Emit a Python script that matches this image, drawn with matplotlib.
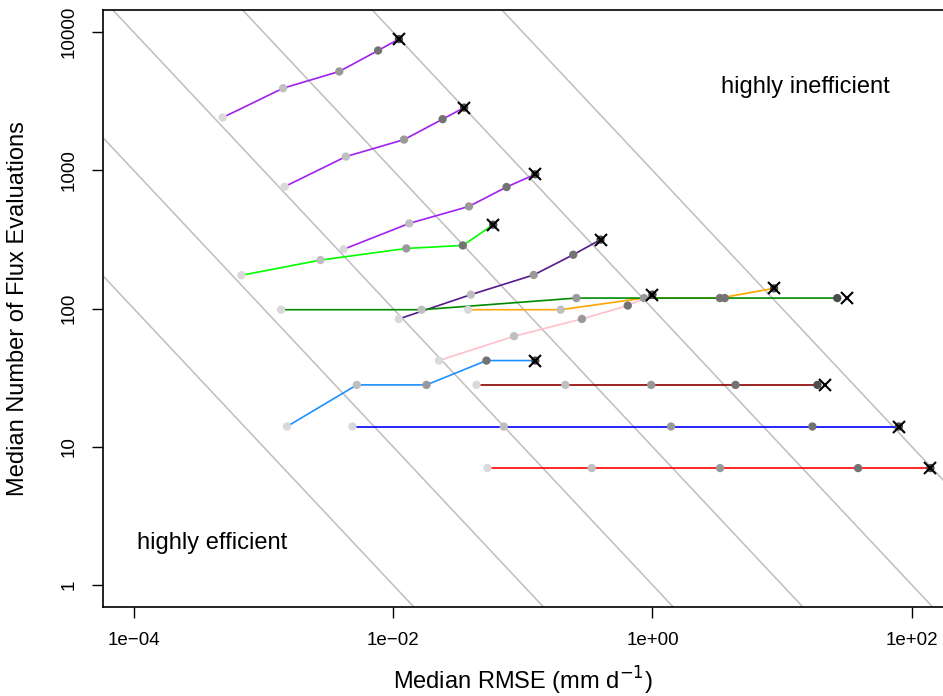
import numpy as np
import matplotlib.pyplot as plt

plt.rcParams['font.family'] = ['Liberation Sans', 'DejaVu Sans']

# median RMSE (x) and median number of flux evaluations (y) per method,
# five tolerance levels each, from loose (light dot) to tight (dark dot)
rmse_purple_a = [4.86e-4, 1.42e-3, 3.85e-3, 7.67e-3, 1.11e-2]
nfe_purple_a = [2410, 3927, 5190, 7360, 8910]
rmse_purple_b = [1.46e-3, 4.33e-3, 1.216e-2, 2.41e-2, 3.53e-2]
nfe_purple_b = [762, 1257, 1668, 2344, 2844]
rmse_purple_c = [4.15e-3, 1.334e-2, 3.85e-2, 7.50e-2, 0.125]
nfe_purple_c = [268, 413, 548, 757, 936]
rmse_green = [6.78e-4, 2.76e-3, 1.265e-2, 3.45e-2, 5.92e-2]
nfe_green = [174, 224, 272, 286, 404]
rmse_purple4 = [1.107e-2, 3.98e-2, 0.1216, 0.245, 0.398]
nfe_purple4 = [84, 126, 175, 245, 315]
rmse_green4 = [1.37e-3, 1.66e-2, 0.259, 3.61, 26.6]
nfe_green4 = [98, 98, 119, 119, 119]
rmse_orange = [0.0379, 0.196, 0.861, 3.31, 8.67]
nfe_orange = [98, 98, 119, 119, 140]
rmse_pink = [0.0226, 0.0857, 0.286, 0.645, 1.0]
nfe_pink = [42, 63, 84, 105, 126]
rmse_dodger = [1.52e-3, 5.26e-3, 0.0181, 0.0525, 0.125]
nfe_dodger = [14, 28, 28, 42, 42]
rmse_darkred = [0.044, 0.213, 0.977, 4.37, 18.7]
nfe_darkred = [28, 28, 28, 28, 28]
rmse_blue = [4.86e-3, 0.0714, 1.39, 17.1, 79.4]
nfe_blue = [14, 14, 14, 14, 14]
rmse_red = [0.0534, 0.340, 3.32, 38.5, 139]
nfe_red = [7, 7, 7, 7, 7]

# end markers (x) of each method
end_rmse = [1.11e-2, 3.53e-2, 0.125, 5.92e-2, 0.398, 31.8, 8.67, 1.0, 0.125, 21.4, 79.4, 139]
end_nfe = [8910, 2844, 936, 404, 315, 119, 140, 126, 42, 28, 14, 7]

series = [
    (rmse_purple_a, nfe_purple_a, '#A020F0'),
    (rmse_purple_b, nfe_purple_b, '#A020F0'),
    (rmse_purple_c, nfe_purple_c, '#A020F0'),
    (rmse_green, nfe_green, '#00FF00'),
    (rmse_purple4, nfe_purple4, '#551A8B'),
    (rmse_orange, nfe_orange, '#FFA500'),
    (rmse_green4, nfe_green4, '#008B00'),
    (rmse_pink, nfe_pink, '#FFC0CB'),
    (rmse_dodger, nfe_dodger, '#1E90FF'),
    (rmse_darkred, nfe_darkred, '#8B0000'),
    (rmse_blue, nfe_blue, '#0000FF'),
    (rmse_red, nfe_red, '#FF0000'),
]
dot_shades = ['#D9D9D9', '#BFBFBF', '#999999', '#737373', '#4D4D4D']
iso_levels = [-2, -1, 0, 1, 2, 3]  # lines of constant RMSE * evaluations

fig = plt.figure(figsize=(9.43, 6.96), dpi=100)
ax = fig.add_axes([102.5 / 943, 1 - 607 / 696, 1 - 102.5 / 943, 597 / 696])
ax.set_xscale('log')
ax.set_yscale('log')
ax.set_xlim(10 ** -4.24, 10 ** 2.24)
ax.set_ylim(10 ** -0.16, 10 ** 4.16)

xs = np.logspace(-6, 4, 20)
for k in iso_levels:
    ax.plot(xs, 10.0 ** k / xs, color='#BEBEBE', lw=1.1, zorder=1)

for x, n, col in series:
    ax.plot(x, n, color=col, lw=1.2, zorder=2)
    ax.scatter(x, n, c=dot_shades, s=36, linewidths=0, zorder=3)
ax.plot(end_rmse, end_nfe, ls='none', marker='x', color='black', ms=8, mew=1.5, zorder=4)

ax.text(10 ** 1.18, 10 ** 3.6, 'highly inefficient', fontsize=17, ha='center', va='center')
ax.text(4.0e-4, 2.0, 'highly efficient', fontsize=17, ha='center', va='center')

ax.set_xticks([1e-4, 1e-2, 1e0, 1e2])
ax.set_xticklabels(['1e\u221204', '1e\u221202', '1e+00', '1e+02'])
ax.set_yticks([1, 10, 100, 1000, 10000])
ax.set_yticklabels(['1', '10', '100', '1000', '10000'], rotation=90, va='center')
ax.minorticks_off()
ax.tick_params(labelsize=13.5, length=8, width=1)
ax.tick_params(axis='x', pad=10)
ax.tick_params(axis='y', pad=10)
ax.spines['right'].set_visible(False)
for s in ['left', 'bottom', 'top']:
    ax.spines[s].set_linewidth(1.2)

ax.set_xlabel('Median RMSE (mm d$^{-1}$)', fontsize=17)
ax.set_ylabel('Median Number of Flux Evaluations', fontsize=17)
ax.xaxis.set_label_coords(0.5, -(681 - 607) / 597)
ax.xaxis.label.set_va('center')
ax.yaxis.set_label_coords(-(102.5 - 18) / 840.5, 0.5)
ax.yaxis.label.set_va('center')

fig.savefig('out.png', dpi=100)
